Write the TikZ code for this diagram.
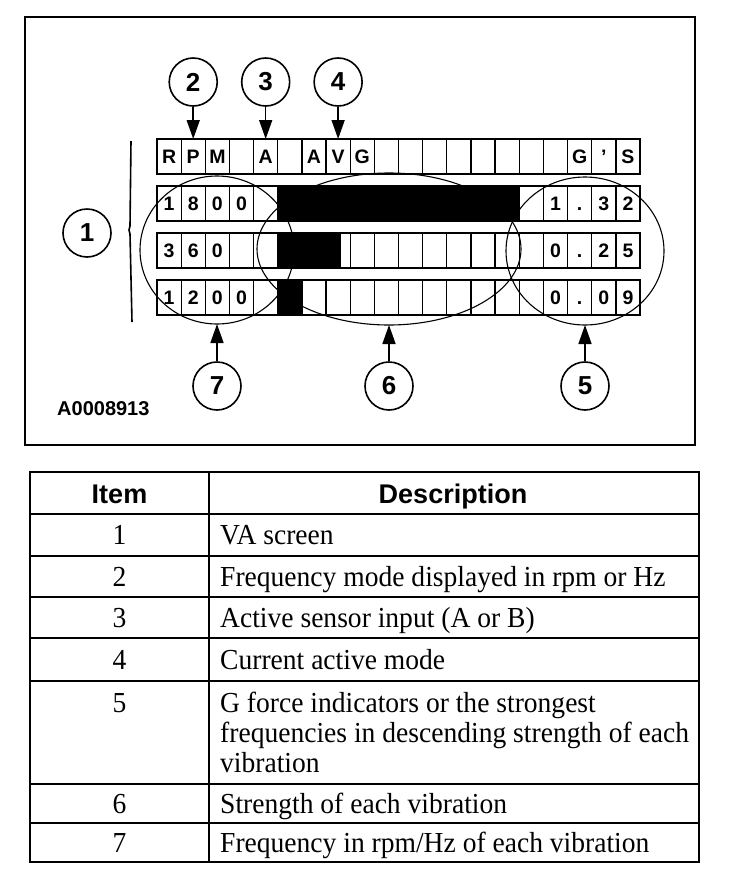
\documentclass[tikz,border=0pt]{standalone}
\usepackage{fontspec}
\setmainfont{Liberation Serif}
\newfontfamily\sansfam{Liberation Sans}
\newfontfamily\tabfont{Liberation Serif}[FakeStretch=0.95]
\usetikzlibrary{shapes.geometric,arrows.meta}
\begin{document}
\begin{tikzpicture}[x=1pt,y=-1pt,
  cell/.style={draw, line width=1.3pt, fill=white, minimum width=24.15pt, minimum height=35pt,
    inner sep=0pt, outer sep=0pt, text height=14pt, text depth=0pt,
    font=\sansfam\bfseries\fontsize{19.5}{19.5}\selectfont},
  callout/.style={draw, circle, line width=1.6pt, minimum size=48pt, inner sep=0pt,
    font=\sansfam\bfseries\fontsize{26}{26}\selectfont},
  ring/.style={draw, ellipse, line width=1.1pt, inner sep=0pt, outer sep=0pt},
  pointer/.style={line width=1.6pt, -{Triangle[length=19pt,width=13pt]}},
  tab/.style={line width=2.2pt},
  hdr/.style={font=\sansfam\bfseries\fontsize{27}{27}\selectfont, inner sep=0pt, anchor=base},
  itemtxt/.style={font=\tabfont\fontsize{29}{30}\selectfont, anchor=base, inner sep=0pt},
  desctxt/.style={font=\tabfont\fontsize{29}{30}\selectfont, anchor=base west, inner sep=0pt}]
\path[use as bounding box] (0,0) rectangle (736,884);
\def\cw{24.15}
% frame
\draw[line width=2.5pt] (25,17) rectangle (695,445);
% bracket
\draw[line width=1.6pt] (131,141) -- (130,226) -- (129,230) -- (130,234) -- (132,322);
% cells
\foreach \t [count=\i] in {R,P,M,,A,,A,V,G,,,,,,,,,G,’,S}
  \node[cell] (t\i) at ({157+(\i-0.5)*\cw},156.5) {\t};
\foreach \t [count=\i] in {1,8,0,0,,,,,,,,,,,,,1,.,3,2}
  \node[cell] (a\i) at ({157+(\i-0.5)*\cw},203.5) {\t};
\foreach \t [count=\i] in {3,6,0,,,,,,,,,,,,,,0,.,2,5}
  \node[cell] (b\i) at ({157+(\i-0.5)*\cw},250.5) {\t};
\foreach \t [count=\i] in {1,2,0,0,,,,,,,,,,,,,0,.,0,9}
  \node[cell] (c\i) at ({157+(\i-0.5)*\cw},297.5) {\t};
% bars
\fill (a6.north west) rectangle (a15.south east);
\fill (b6.north west) rectangle ({157+7.6*\cw},268);
\fill (c6.north west) rectangle (c6.south east);
% ellipses
\node[ring, minimum width=154pt, minimum height=148pt] (e7) at (217,250) {};
\node[ring, minimum width=264pt, minimum height=152pt] (e6) at (389,249) {};
\node[ring, minimum width=158pt, minimum height=148pt] (e5) at (585,251) {};
% callouts
\node[callout] (n1) at (87,233) {1};
\node[callout] (n2) at ({157+1.5*\cw},82) {2};
\node[callout] (n3) at ({157+4.5*\cw},82) {3};
\node[callout] (n4) at ({157+7.5*\cw},82) {4};
\node[callout] (n7) at (217,386) {7};
\node[callout] (n6) at (389,386) {6};
\node[callout] (n5) at (585,386) {5};
\draw[pointer] (n2) -- (t2.north);
\draw[pointer] (n3) -- (t5.north);
\draw[pointer] (n4) -- (t8.north);
\draw[pointer] (n7) -- (e7.south);
\draw[pointer] (n6) -- (e6.south);
\draw[pointer] (n5) -- (e5.south);
\node[font=\sansfam\bfseries\fontsize{20}{20}\selectfont, anchor=west, inner sep=0pt] (code) at (57,409) {A0008913};
% table
\draw[tab] (30,472) rectangle (699,862);
\foreach \y in {514,556,597,638,681,784,823} \draw[tab] (30,\y) -- (699,\y);
\draw[tab] (209,472) -- (209,862);
\node[hdr] (h1) at (119.5,503.5) {Item};
\node[hdr] (h2) at (453,503.5) {Description};
\node[itemtxt] (i1) at (119.5,544.5) {1};
\node[desctxt] (d1) at (220,544.5) {VA screen};
\node[itemtxt] (i2) at (119.5,586) {2};
\node[desctxt] (d2) at (220,586) {Frequency mode displayed in rpm or Hz};
\node[itemtxt] (i3) at (119.5,627) {3};
\node[desctxt] (d3) at (220,627) {Active sensor input (A or B)};
\node[itemtxt] (i4) at (119.5,669) {4};
\node[desctxt] (d4) at (220,669) {Current active mode};
\node[itemtxt] (i5) at (119.5,712.5) {5};
\node[desctxt] (d5a) at (220,712.5) {G force indicators or the strongest};
\node[desctxt] (d5b) at (220,742.5) {frequencies in descending strength of each};
\node[desctxt] (d5c) at (220,772.5) {vibration};
\node[itemtxt] (i6) at (119.5,813) {6};
\node[desctxt] (d6) at (220,813) {Strength of each vibration};
\node[itemtxt] (i7) at (119.5,852) {7};
\node[desctxt] (d7) at (220,852) {Frequency in rpm/Hz of each vibration};
\end{tikzpicture}
\end{document}
